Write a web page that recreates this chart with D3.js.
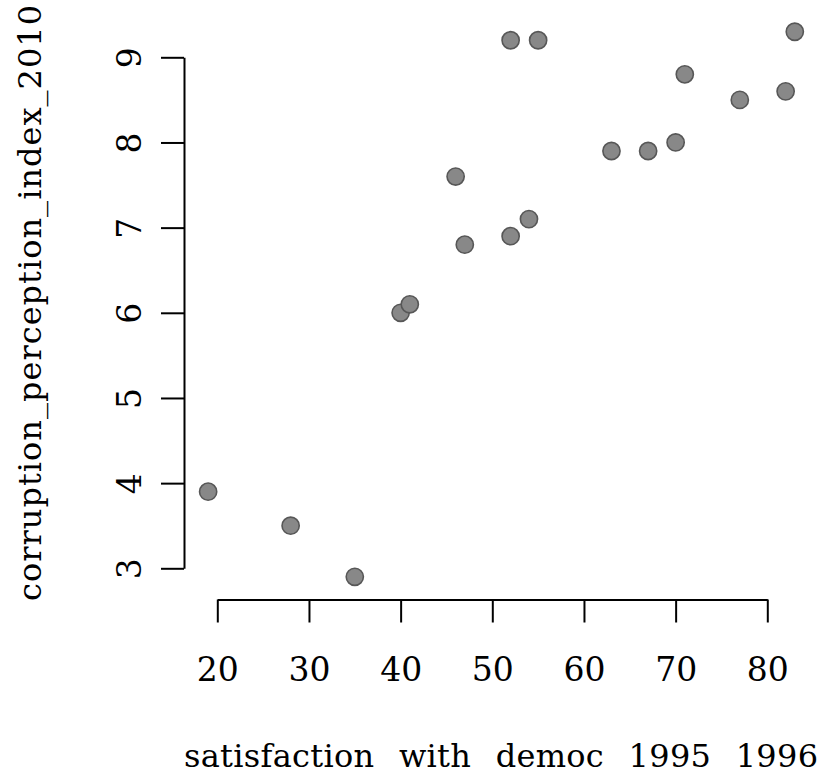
<!DOCTYPE html>
<html>
<head>
<meta charset="utf-8">
<script src="https://cdn.jsdelivr.net/npm/d3@7"></script>
<style>
  body { margin: 0; background: #fff; }
  text { font-family: "DejaVu Serif", serif; fill: #000; }
  .axis path, .axis line { stroke: #000; stroke-width: 2px; }
  .axis text { font-size: 33px; }
  .label { font-size: 32px; }
</style>
</head>
<body>
<div id="chart"></div>
<script>
// data: satisfaction with democracy vs corruption perception index
let satisfaction = [19, 28, 35, 40, 41, 46, 47, 52, 54, 52, 55, 63, 67, 70, 71, 77, 82, 83];
let corruption   = [3.9, 3.5, 2.9, 6.0, 6.1, 7.6, 6.8, 6.9, 7.1, 9.2, 9.2, 7.9, 7.9, 8.0, 8.8, 8.5, 8.6, 9.3];
let xTicks = [20, 30, 40, 50, 60, 70, 80];
let yTicks = [3, 4, 5, 6, 7, 8, 9];
let xLabel = "satisfaction with democ 1995 1996";
let yLabel = "corruption_perception_index_2010";

let width = 821, height = 779;

let svg = d3.select("#chart").append("svg")
    .attr("width", width)
    .attr("height", height);

// set the ranges
let x = d3.scaleLinear().domain([20, 80]).range([217.3, 767.3]);
let y = d3.scaleLinear().domain([3, 9]).range([568.3, 57.3]);

// x axis (R style, detached from plot)
let gx = svg.append("g")
    .attr("class", "x axis")
    .attr("transform", "translate(0,599.5)")
    .call(d3.axisBottom(x).tickValues(xTicks).tickFormat(d3.format("d")).tickSize(23).tickSizeOuter(0));
gx.attr("font-family", null).attr("font-size", null);
gx.selectAll("text").attr("dy", 0).attr("y", 81);

// y axis
let gy = svg.append("g")
    .attr("class", "y axis")
    .attr("transform", "translate(184,0)")
    .call(d3.axisLeft(y).tickValues(yTicks).tickFormat(d3.format("d")).tickSize(23).tickSizeOuter(0));
gy.attr("font-family", null).attr("font-size", null);
gy.selectAll(".tick text")
    .attr("x", null).attr("dy", null)
    .attr("text-anchor", "middle")
    .attr("transform", "translate(-43,0) rotate(-90)");

// points
svg.append("g").selectAll("circle")
    .data(satisfaction)
    .enter().append("circle")
    .attr("cx", (d) => x(d))
    .attr("cy", (d, i) => y(corruption[i]))
    .attr("r", 8.6)
    .style("fill", "#888888")
    .style("stroke", "#575757")
    .style("stroke-width", 1.6);

// axis labels
svg.append("text")
    .attr("class", "label")
    .attr("x", 184)
    .attr("y", 767)
    .attr("textLength", 634)
    .attr("lengthAdjust", "spacing")
    .style("word-spacing", "14px")
    .text(xLabel);

svg.append("text")
    .attr("class", "label")
    .attr("transform", "translate(41,303) rotate(-90)")
    .attr("text-anchor", "middle")
    .attr("textLength", 596)
    .attr("lengthAdjust", "spacing")
    .text(yLabel);
</script>
</body>
</html>
